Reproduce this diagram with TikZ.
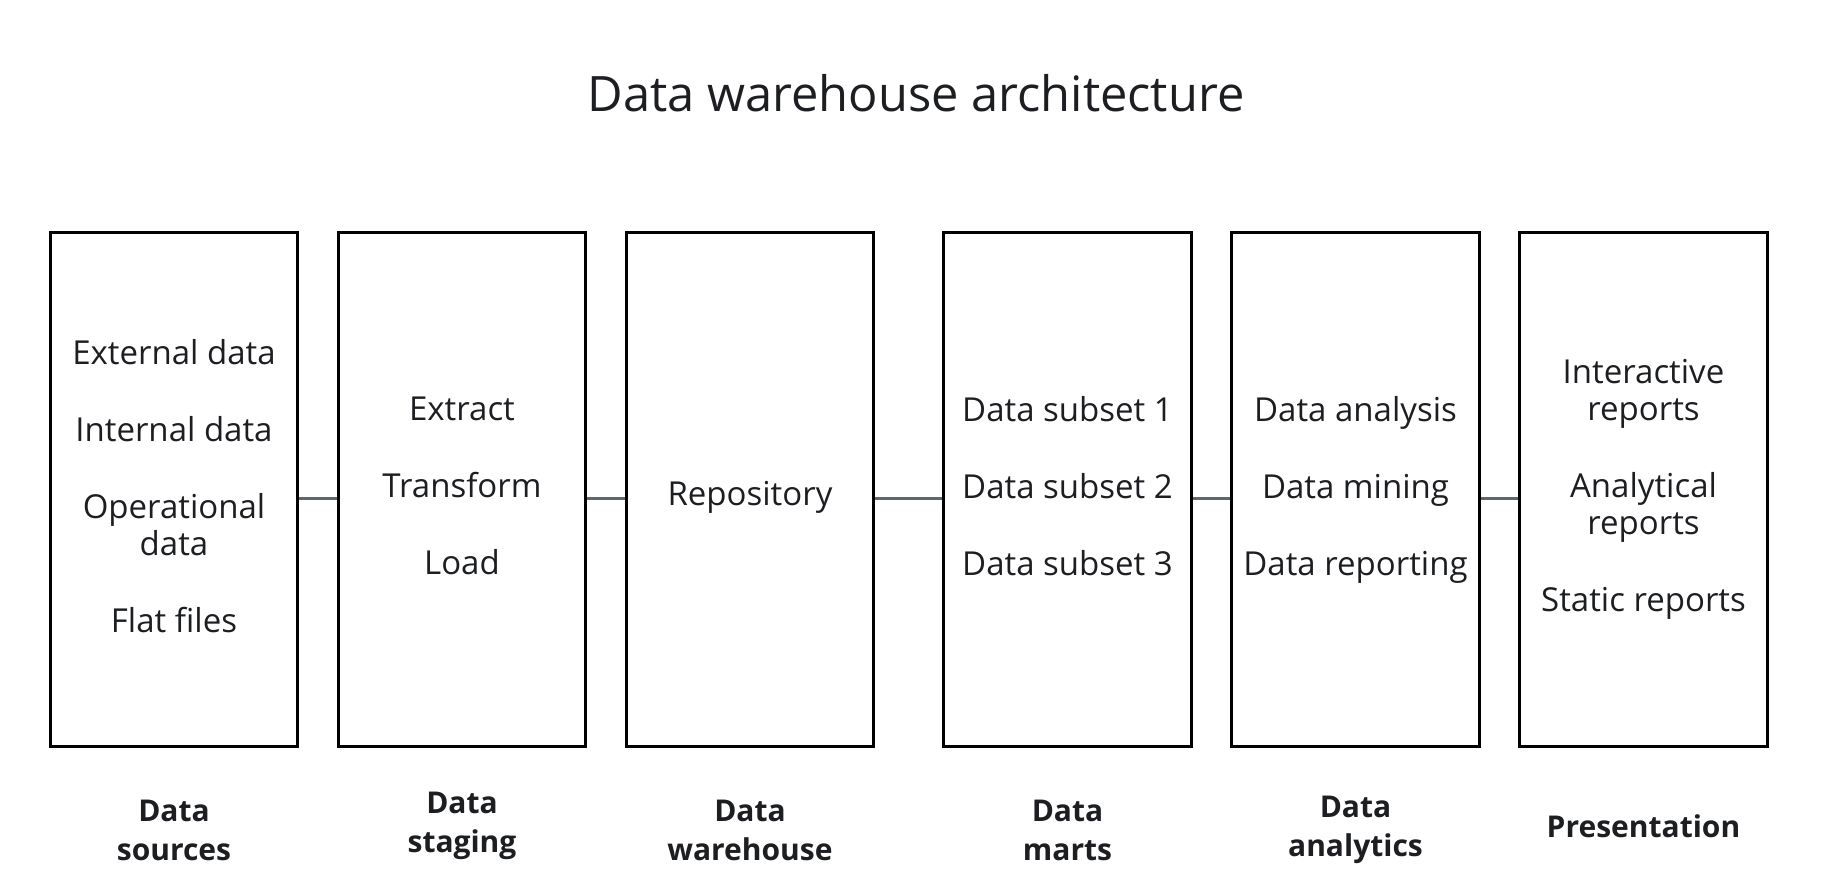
\documentclass[tikz,border=0pt]{standalone}
\usepackage{fontspec}
\setmainfont{Open Sans}
\usetikzlibrary{positioning}

\definecolor{inkdark}{HTML}{1C1E21}
\definecolor{linkgray}{HTML}{5F6670}

\tikzset{
  stagebox/.style={draw=black, line width=3pt, minimum width=247.5pt,
    minimum height=514pt, inner sep=0pt, align=center, text=inkdark,
    font=\fontsize{33}{37}\selectfont,
    execute at begin node=\rule{0pt}{40pt},
    execute at end node=\rule[-8pt]{0pt}{8pt}},
  caption/.style={align=center, text=inkdark, inner sep=0pt,
    font=\bfseries\fontsize{30}{39}\selectfont},
  link/.style={draw=linkgray, line width=2.5pt}
}

\begin{document}
\begin{tikzpicture}[x=1pt,y=-1pt]
  \useasboundingbox (0,0) rectangle (1829,893);

  \node[text=inkdark, font=\fontsize{48.8}{60}\selectfont] (title) at (916,93)
    {Data warehouse architecture};

  % the six stages
  \node[stagebox] (src) at (174,489.5)
    {External data\\[40pt]Internal data\\[40pt]Operational\\data\\[40pt]Flat files};
  \node[stagebox, right=37.5pt of src] (stg) {Extract\\[40pt]Transform\\[40pt]Load};
  \node[stagebox, right=37.5pt of stg] (wh) {Repository};
  \node[stagebox, right=67pt of wh] (mart)
    {Data subset 1\\[40pt]Data subset 2\\[40pt]Data subset 3};
  \node[stagebox, right=37.5pt of mart] (ana)
    {Data analysis\\[40pt]Data mining\\[40pt]Data reporting};
  \node[stagebox, right=37.5pt of ana] (pres)
    {Interactive\\reports\\[40pt]Analytical\\reports\\[40pt]Static reports};

  \foreach \a/\b in {src/stg, stg/wh, wh/mart, mart/ana, ana/pres} {
    \draw[link] ([yshift=-9pt]\a.east) -- ([yshift=-9pt]\b.west);
  }

  % captions under the boxes
  \node[caption] (capsrc) at ([yshift=-82pt]src.south) {Data\\sources};
  \node[caption] (capstg) at ([yshift=-78pt]stg.south) {Data\\staging};
  \node[caption] (capwh) at ([yshift=-82pt]wh.south) {Data\\warehouse};
  \node[caption] (capmart) at ([yshift=-82pt]mart.south) {Data\\marts};
  \node[caption] (capana) at ([yshift=-82pt]ana.south) {Data\\analytics};
  \node[caption] (cappres) at ([yshift=-78pt]pres.south) {Presentation};
\end{tikzpicture}
\end{document}
